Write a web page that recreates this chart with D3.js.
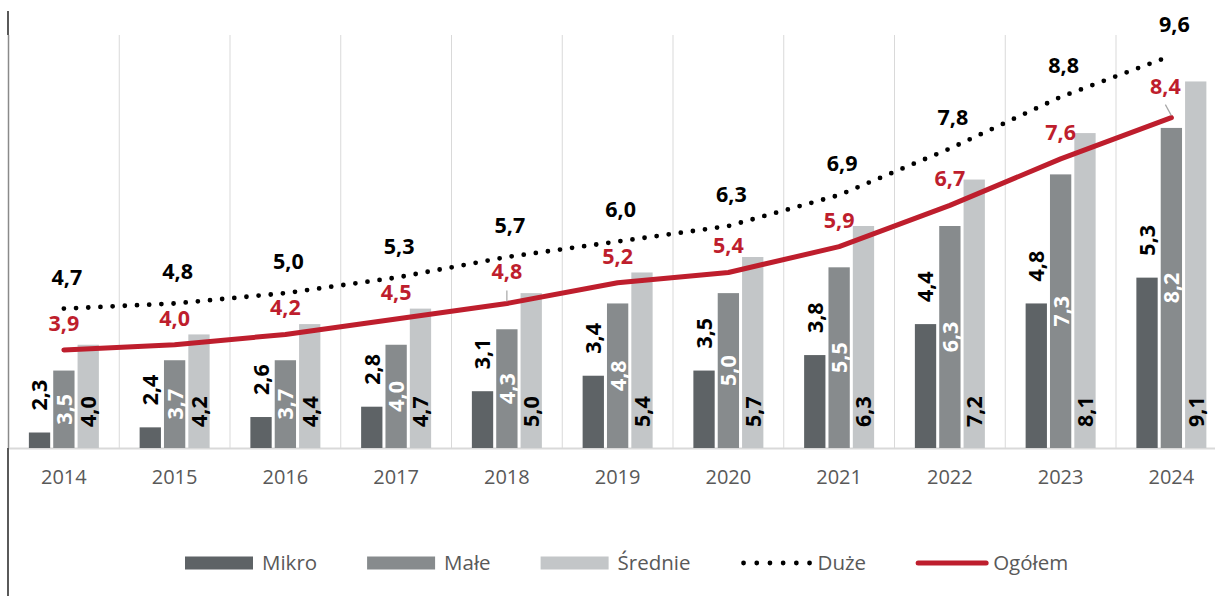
<!DOCTYPE html>
<html>
<head>
<meta charset="utf-8">
<script src="https://cdn.jsdelivr.net/npm/d3@7"></script>
<style>
  body { margin: 0; background: #fff; }
  svg { display: block; font-family: "Open Sans", sans-serif; }
</style>
</head>
<body>
<div id="chart"></div>
<script>
// data
const years = ["2014", "2015", "2016", "2017", "2018", "2019", "2020", "2021", "2022", "2023", "2024"];
const mikro = [2.3, 2.4, 2.6, 2.8, 3.1, 3.4, 3.5, 3.8, 4.4, 4.8, 5.3];
const male = [3.5, 3.7, 3.7, 4.0, 4.3, 4.8, 5.0, 5.5, 6.3, 7.3, 8.2];
const srednie = [4.0, 4.2, 4.4, 4.7, 5.0, 5.4, 5.7, 6.3, 7.2, 8.1, 9.1];
const duze = [4.7, 4.8, 5.0, 5.3, 5.7, 6.0, 6.3, 6.9, 7.8, 8.8, 9.6];
const ogolem = [3.9, 4.0, 4.2, 4.5, 4.8, 5.2, 5.4, 5.9, 6.7, 7.6, 8.4];
const barSeries = ["Mikro", "Małe", "Średnie"];
const legendLabels = ["Mikro", "Małe", "Średnie", "Duże", "Ogółem"];

const width = 1215, height = 596;
const margin = {top: 35, left: 8.5, bottom: 148};
const bandW = 110.75;

const colors = {"Mikro": "#5E6366", "Małe": "#878B8D", "Średnie": "#C3C6C8"};
const red = "#BE1E2D";

const fmt = d3.formatLocale({decimal: ",", thousands: " ", grouping: [3], currency: ["", ""]}).format(".1f");

let svg = d3.select("#chart").append("svg")
    .attr("width", width)
    .attr("height", height);

let x = d3.scaleBand()
    .domain(years)
    .range([margin.left, margin.left + bandW * years.length]);
let xSub = d3.scaleBand()
    .domain(barSeries)
    .range([-35, 35])
    .paddingInner(0.125);
let y = d3.scaleLinear()
    .domain([2, 10])
    .range([height - margin.bottom, margin.top]);
const baseY = y(2);
const cx = d => x(d) + x.bandwidth() / 2;

// left frame line
svg.append("line").attr("x1", 8).attr("x2", 8).attr("y1", 11).attr("y2", margin.top)
    .attr("stroke", "#000").attr("stroke-width", 1.3);
svg.append("line").attr("x1", 8).attr("x2", 8).attr("y1", baseY).attr("y2", height)
    .attr("stroke", "#000").attr("stroke-width", 1.3);

// vertical gridlines between categories
let gridX = years.map(d => x(d)).concat([x(years[years.length - 1]) + bandW]);
svg.append("g").selectAll("line")
    .data(gridX)
    .join("line")
    .attr("x1", d => d).attr("x2", d => d)
    .attr("y1", margin.top).attr("y2", baseY)
    .attr("stroke", (d, i) => i === 0 ? "#8a8a8a" : "#D9D9D9")
    .attr("stroke-width", (d, i) => i === 0 ? 1.5 : 1);

// x axis
let xAxis = d3.axisBottom(x).tickSize(0).tickPadding(22);
let xAxisGroup = svg.append("g")
    .attr("transform", `translate(0, ${baseY})`)
    .call(xAxis);
xAxisGroup.select(".domain").attr("stroke", "#D9D9D9").attr("stroke-width", 2);
xAxisGroup.selectAll("text")
    .attr("fill", "#595959")
    .style("font-family", "Open Sans")
    .style("font-size", "20px");

// bars
let barData = [];
years.forEach((yr, i) => {
    barData.push({year: yr, series: "Mikro", value: mikro[i]});
    barData.push({year: yr, series: "Małe", value: male[i]});
    barData.push({year: yr, series: "Średnie", value: srednie[i]});
});

svg.append("g").selectAll("rect")
    .data(barData)
    .join("rect")
    .attr("x", d => cx(d.year) + xSub(d.series))
    .attr("y", d => y(d.value))
    .attr("width", xSub.bandwidth())
    .attr("height", d => baseY - y(d.value))
    .attr("fill", d => colors[d.series]);

// rotated bar labels
svg.append("g").selectAll("text")
    .data(barData)
    .join("text")
    .attr("transform", d => {
        let px = cx(d.year) + xSub(d.series) + xSub.bandwidth() / 2;
        let py;
        if (d.series === "Mikro") py = y(d.value) - 22;          // outside end
        else if (d.series === "Małe") py = (y(d.value) + baseY) / 2; // center
        else py = baseY - 21;                                     // inside base
        return `translate(${px}, ${py}) rotate(-90)`;
    })
    .attr("dy", "0.37em")
    .attr("text-anchor", d => d.series === "Małe" ? "middle" : "start")
    .attr("fill", d => d.series === "Małe" ? "#fff" : "#000")
    .style("font-size", "21.5px")
    .style("font-weight", "bold")
    .text(d => fmt(d.value));

// lines
let line = d3.line()
    .x((d, i) => cx(years[i]))
    .y(d => y(d));

svg.append("path")
    .datum(ogolem)
    .attr("d", line)
    .attr("fill", "none")
    .attr("stroke", red)
    .attr("stroke-width", 5)
    .attr("stroke-linecap", "round")
    .attr("stroke-linejoin", "round");

svg.append("path")
    .datum(duze)
    .attr("d", line)
    .attr("fill", "none")
    .attr("stroke", "#000")
    .attr("stroke-width", 4.8)
    .attr("stroke-linecap", "round")
    .attr("stroke-dasharray", "0 12.2");

// line labels
svg.append("g").selectAll("text")
    .data(duze)
    .join("text")
    .attr("x", (d, i) => cx(years[i]) + 3)
    .attr("y", d => y(d) - 32)
    .attr("dy", "0.37em")
    .attr("text-anchor", "middle")
    .attr("fill", "#000")
    .style("font-size", "21.5px")
    .style("font-weight", "bold")
    .text(d => fmt(d));

// leader lines for the two moved Ogółem labels
const leaderIdx = [4, 10];
svg.append("g").selectAll("line")
    .data(leaderIdx)
    .join("line")
    .attr("x1", i => cx(years[i]) - (i === 10 ? 6 : 0))
    .attr("y1", i => y(ogolem[i]) - 13)
    .attr("x2", i => cx(years[i]))
    .attr("y2", i => y(ogolem[i]) - 2)
    .attr("stroke", "#A6A6A6")
    .attr("stroke-width", 1.2);

svg.append("g").selectAll("text")
    .data(ogolem)
    .join("text")
    .attr("x", (d, i) => cx(years[i]) - (i === 10 ? 6 : 0))
    .attr("y", (d, i) => y(d) - (leaderIdx.includes(i) ? 32 : 27))
    .attr("dy", "0.37em")
    .attr("text-anchor", "middle")
    .attr("fill", red)
    .style("font-size", "21.5px")
    .style("font-weight", "bold")
    .text(d => fmt(d));

// legend
const legendY = 563;
let legend = svg.append("g");
let lx = 185;
legendLabels.forEach(name => {
    let g = legend.append("g").attr("transform", `translate(${lx}, ${legendY})`);
    if (colors[name]) {
        g.append("rect").attr("x", 0).attr("y", -6.5).attr("width", 68).attr("height", 13)
            .attr("fill", colors[name]);
    } else if (name === "Duże") {
        g.append("line").attr("x1", 3).attr("x2", 70).attr("y1", 0).attr("y2", 0)
            .attr("stroke", "#000").attr("stroke-width", 4.8)
            .attr("stroke-linecap", "round").attr("stroke-dasharray", "0 13.2");
    } else {
        g.append("line").attr("x1", 2).attr("x2", 70).attr("y1", 0).attr("y2", 0)
            .attr("stroke", red).attr("stroke-width", 5).attr("stroke-linecap", "round");
    }
    let t = g.append("text")
        .attr("x", 77)
        .attr("dy", "0.36em")
        .attr("fill", "#595959")
        .style("font-size", "20.5px")
        .text(name);
    lx += 77 + t.node().getComputedTextLength() + 50;
});
</script>
</body>
</html>
